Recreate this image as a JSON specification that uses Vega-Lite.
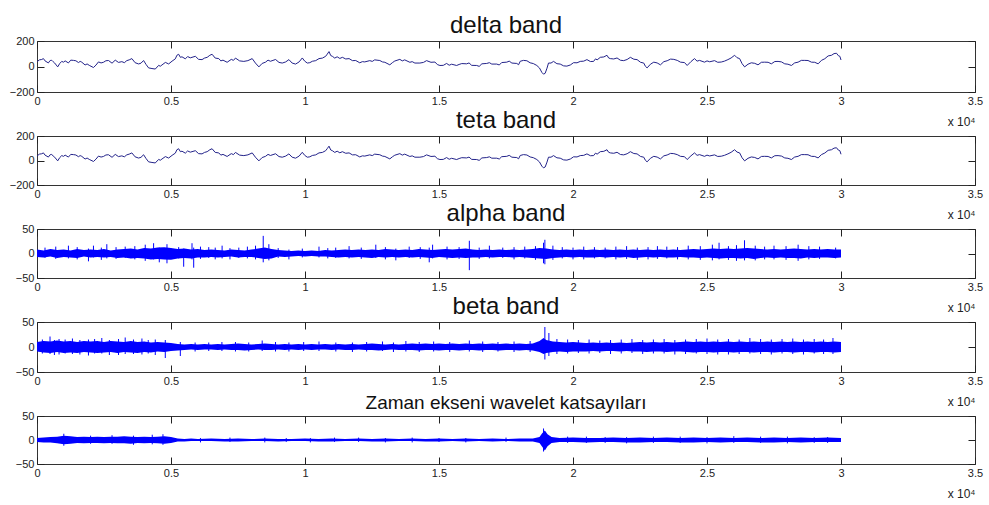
{
"$schema": "https://vega.github.io/schema/vega-lite/v6.json",
"padding": {"left": 8, "top": 13, "right": 5, "bottom": 2},
"background": "white",
"datasets": {
"delta": [{"x":0,"y":37},{"x":90,"y":52},{"x":175,"y":55},{"x":240,"y":62},{"x":300,"y":44},{"x":424,"y":28},{"x":490,"y":47},{"x":549,"y":49},{"x":600,"y":38},{"x":660,"y":27},{"x":773,"y":-3},{"x":850,"y":24},{"x":923,"y":40},{"x":990,"y":34},{"x":1050,"y":44},{"x":1172,"y":28},{"x":1260,"y":50},{"x":1359,"y":48},{"x":1450,"y":45},{"x":1546,"y":31},{"x":1610,"y":40},{"x":1670,"y":34},{"x":1795,"y":12},{"x":1870,"y":20},{"x":1950,"y":9},{"x":2107,"y":-8},{"x":2200,"y":11},{"x":2294,"y":36},{"x":2390,"y":28},{"x":2480,"y":33},{"x":2570,"y":45},{"x":2668,"y":47},{"x":2800,"y":26},{"x":2920,"y":50},{"x":3040,"y":32},{"x":3166,"y":38},{"x":3260,"y":30},{"x":3350,"y":46},{"x":3440,"y":52},{"x":3540,"y":62},{"x":3660,"y":30},{"x":3790,"y":20},{"x":3880,"y":26},{"x":3977,"y":47},{"x":4070,"y":16},{"x":4164,"y":-11},{"x":4290,"y":-16},{"x":4413,"y":-20},{"x":4540,"y":9},{"x":4600,"y":2},{"x":4663,"y":12},{"x":4790,"y":32},{"x":4912,"y":20},{"x":5040,"y":42},{"x":5161,"y":60},{"x":5220,"y":88},{"x":5286,"y":96},{"x":5350,"y":72},{"x":5410,"y":76},{"x":5535,"y":60},{"x":5620,"y":78},{"x":5720,"y":68},{"x":5909,"y":80},{"x":6030,"y":56},{"x":6159,"y":54},{"x":6250,"y":66},{"x":6350,"y":72},{"x":6450,"y":88},{"x":6533,"y":96},{"x":6650,"y":66},{"x":6782,"y":62},{"x":6860,"y":44},{"x":6940,"y":50},{"x":7094,"y":33},{"x":7250,"y":56},{"x":7330,"y":48},{"x":7405,"y":66},{"x":7560,"y":44},{"x":7717,"y":40},{"x":7870,"y":46},{"x":8030,"y":62},{"x":8150,"y":27},{"x":8279,"y":-3},{"x":8400,"y":24},{"x":8527,"y":34},{"x":8620,"y":50},{"x":8710,"y":41},{"x":8901,"y":55},{"x":9030,"y":32},{"x":9151,"y":27},{"x":9280,"y":36},{"x":9400,"y":54},{"x":9520,"y":27},{"x":9649,"y":19},{"x":9780,"y":36},{"x":9899,"y":67},{"x":9990,"y":42},{"x":10086,"y":27},{"x":10180,"y":30},{"x":10273,"y":41},{"x":10400,"y":46},{"x":10522,"y":62},{"x":10650,"y":66},{"x":10771,"y":80},{"x":10830,"y":97},{"x":10896,"y":117},{"x":10960,"y":86},{"x":11021,"y":80},{"x":11110,"y":66},{"x":11200,"y":76},{"x":11300,"y":63},{"x":11395,"y":72},{"x":11520,"y":59},{"x":11645,"y":62},{"x":11770,"y":46},{"x":11893,"y":47},{"x":12043,"y":29},{"x":12140,"y":38},{"x":12230,"y":36},{"x":12417,"y":46},{"x":12510,"y":40},{"x":12600,"y":52},{"x":12791,"y":47},{"x":12890,"y":36},{"x":12980,"y":33},{"x":13165,"y":13},{"x":13260,"y":30},{"x":13350,"y":43},{"x":13539,"y":56},{"x":13630,"y":44},{"x":13720,"y":52},{"x":13913,"y":33},{"x":14000,"y":38},{"x":14100,"y":27},{"x":14287,"y":27},{"x":14420,"y":32},{"x":14536,"y":46},{"x":14700,"y":33},{"x":14848,"y":35},{"x":14940,"y":15},{"x":15035,"y":8},{"x":15160,"y":9},{"x":15284,"y":24},{"x":15380,"y":10},{"x":15470,"y":18},{"x":15658,"y":8},{"x":15750,"y":16},{"x":15850,"y":23},{"x":16032,"y":21},{"x":16120,"y":28},{"x":16220,"y":9},{"x":16406,"y":8},{"x":16500,"y":1},{"x":16600,"y":21},{"x":16780,"y":24},{"x":16880,"y":30},{"x":16970,"y":19},{"x":17154,"y":19},{"x":17250,"y":12},{"x":17340,"y":31},{"x":17528,"y":34},{"x":17620,"y":42},{"x":17720,"y":27},{"x":17902,"y":24},{"x":17970,"y":14},{"x":18030,"y":41},{"x":18151,"y":48},{"x":18280,"y":45},{"x":18400,"y":29},{"x":18520,"y":23},{"x":18650,"y":8},{"x":18750,"y":-12},{"x":18837,"y":-46},{"x":18900,"y":-60},{"x":18962,"y":-53},{"x":19030,"y":-13},{"x":19086,"y":27},{"x":19180,"y":27},{"x":19273,"y":40},{"x":19400,"y":22},{"x":19523,"y":19},{"x":19650,"y":5},{"x":19772,"y":3},{"x":19900,"y":12},{"x":20021,"y":30},{"x":20150,"y":29},{"x":20271,"y":40},{"x":20400,"y":42},{"x":20520,"y":54},{"x":20650,"y":39},{"x":20769,"y":40},{"x":20840,"y":60},{"x":20900,"y":52},{"x":21019,"y":72},{"x":21150,"y":75},{"x":21268,"y":88},{"x":21330,"y":67},{"x":21393,"y":62},{"x":21520,"y":59},{"x":21643,"y":67},{"x":21770,"y":49},{"x":21892,"y":46},{"x":22020,"y":55},{"x":22141,"y":72},{"x":22270,"y":57},{"x":22391,"y":54},{"x":22520,"y":33},{"x":22640,"y":27},{"x":22700,"y":2},{"x":22765,"y":-11},{"x":22890,"y":18},{"x":23014,"y":34},{"x":23140,"y":28},{"x":23263,"y":13},{"x":23390,"y":38},{"x":23513,"y":45},{"x":23640,"y":58},{"x":23762,"y":56},{"x":23890,"y":48},{"x":24011,"y":34},{"x":24160,"y":31},{"x":24260,"y":8},{"x":24400,"y":38},{"x":24534,"y":62},{"x":24630,"y":42},{"x":24720,"y":48},{"x":24908,"y":34},{"x":25000,"y":44},{"x":25100,"y":37},{"x":25282,"y":46},{"x":25400,"y":33},{"x":25532,"y":35},{"x":25650,"y":42},{"x":25781,"y":54},{"x":25900,"y":67},{"x":26030,"y":88},{"x":26120,"y":69},{"x":26217,"y":62},{"x":26310,"y":22},{"x":26404,"y":-3},{"x":26530,"y":18},{"x":26654,"y":29},{"x":26780,"y":25},{"x":26903,"y":13},{"x":27030,"y":33},{"x":27152,"y":34},{"x":27280,"y":33},{"x":27402,"y":21},{"x":27530,"y":39},{"x":27651,"y":40},{"x":27780,"y":36},{"x":27900,"y":21},{"x":28020,"y":18},{"x":28150,"y":8},{"x":28270,"y":28},{"x":28399,"y":34},{"x":28520,"y":48},{"x":28648,"y":48},{"x":28770,"y":47},{"x":28898,"y":34},{"x":29020,"y":33},{"x":29147,"y":21},{"x":29270,"y":48},{"x":29396,"y":61},{"x":29520,"y":83},{"x":29646,"y":88},{"x":29740,"y":101},{"x":29833,"y":104},{"x":29900,"y":85},{"x":29958,"y":80},{"x":30000,"y":51}],
"alphaBody": [{"x":0,"hi":8,"lo":-7},{"x":250,"hi":6,"lo":-8},{"x":500,"hi":9,"lo":-6},{"x":750,"hi":7,"lo":-9},{"x":1000,"hi":8,"lo":-7},{"x":1250,"hi":6,"lo":-8},{"x":1500,"hi":9,"lo":-9},{"x":1750,"hi":7,"lo":-6},{"x":2000,"hi":8,"lo":-8},{"x":2250,"hi":7,"lo":-7},{"x":2500,"hi":9,"lo":-8},{"x":2750,"hi":6,"lo":-7},{"x":3000,"hi":8,"lo":-9},{"x":3250,"hi":9,"lo":-8},{"x":3500,"hi":10,"lo":-10},{"x":3750,"hi":8,"lo":-9},{"x":4000,"hi":11,"lo":-10},{"x":4250,"hi":10,"lo":-12},{"x":4500,"hi":12,"lo":-11},{"x":4750,"hi":13,"lo":-12},{"x":5000,"hi":11,"lo":-13},{"x":5250,"hi":9,"lo":-10},{"x":5500,"hi":10,"lo":-9},{"x":5750,"hi":8,"lo":-10},{"x":6000,"hi":9,"lo":-8},{"x":6250,"hi":7,"lo":-8},{"x":6500,"hi":8,"lo":-7},{"x":6750,"hi":7,"lo":-8},{"x":7000,"hi":6,"lo":-7},{"x":7250,"hi":8,"lo":-6},{"x":7500,"hi":7,"lo":-8},{"x":7750,"hi":6,"lo":-7},{"x":8000,"hi":8,"lo":-7},{"x":8250,"hi":10,"lo":-9},{"x":8500,"hi":12,"lo":-11},{"x":8750,"hi":9,"lo":-10},{"x":9000,"hi":7,"lo":-6},{"x":9250,"hi":6,"lo":-7},{"x":9500,"hi":5,"lo":-6},{"x":9750,"hi":6,"lo":-5},{"x":10000,"hi":5,"lo":-6},{"x":10250,"hi":6,"lo":-5},{"x":10500,"hi":5,"lo":-6},{"x":10750,"hi":7,"lo":-6},{"x":11000,"hi":6,"lo":-7},{"x":11250,"hi":7,"lo":-8},{"x":11500,"hi":8,"lo":-7},{"x":11750,"hi":7,"lo":-8},{"x":12000,"hi":8,"lo":-7},{"x":12250,"hi":7,"lo":-8},{"x":12500,"hi":8,"lo":-9},{"x":12750,"hi":7,"lo":-7},{"x":13000,"hi":9,"lo":-8},{"x":13250,"hi":8,"lo":-7},{"x":13500,"hi":7,"lo":-8},{"x":13750,"hi":8,"lo":-7},{"x":14000,"hi":7,"lo":-8},{"x":14250,"hi":9,"lo":-7},{"x":14500,"hi":8,"lo":-8},{"x":14750,"hi":7,"lo":-9},{"x":15000,"hi":8,"lo":-7},{"x":15250,"hi":9,"lo":-8},{"x":15500,"hi":8,"lo":-9},{"x":15750,"hi":9,"lo":-8},{"x":16000,"hi":10,"lo":-9},{"x":16250,"hi":8,"lo":-8},{"x":16500,"hi":7,"lo":-8},{"x":16750,"hi":8,"lo":-7},{"x":17000,"hi":7,"lo":-8},{"x":17250,"hi":8,"lo":-7},{"x":17500,"hi":7,"lo":-7},{"x":17750,"hi":8,"lo":-8},{"x":18000,"hi":7,"lo":-7},{"x":18250,"hi":8,"lo":-8},{"x":18500,"hi":9,"lo":-9},{"x":18750,"hi":11,"lo":-10},{"x":19000,"hi":10,"lo":-11},{"x":19250,"hi":8,"lo":-9},{"x":19500,"hi":7,"lo":-8},{"x":19750,"hi":8,"lo":-7},{"x":20000,"hi":7,"lo":-8},{"x":20250,"hi":8,"lo":-7},{"x":20500,"hi":7,"lo":-8},{"x":20750,"hi":8,"lo":-8},{"x":21000,"hi":7,"lo":-7},{"x":21250,"hi":8,"lo":-8},{"x":21500,"hi":7,"lo":-7},{"x":21750,"hi":8,"lo":-8},{"x":22000,"hi":7,"lo":-7},{"x":22250,"hi":8,"lo":-9},{"x":22500,"hi":7,"lo":-8},{"x":22750,"hi":8,"lo":-7},{"x":23000,"hi":7,"lo":-8},{"x":23250,"hi":8,"lo":-7},{"x":23500,"hi":7,"lo":-8},{"x":23750,"hi":8,"lo":-8},{"x":24000,"hi":7,"lo":-7},{"x":24250,"hi":8,"lo":-8},{"x":24500,"hi":9,"lo":-8},{"x":24750,"hi":8,"lo":-9},{"x":25000,"hi":9,"lo":-8},{"x":25250,"hi":10,"lo":-9},{"x":25500,"hi":9,"lo":-10},{"x":25750,"hi":10,"lo":-9},{"x":26000,"hi":9,"lo":-9},{"x":26250,"hi":10,"lo":-10},{"x":26500,"hi":11,"lo":-9},{"x":26750,"hi":10,"lo":-11},{"x":27000,"hi":9,"lo":-9},{"x":27250,"hi":8,"lo":-8},{"x":27500,"hi":9,"lo":-9},{"x":27750,"hi":8,"lo":-8},{"x":28000,"hi":9,"lo":-9},{"x":28250,"hi":10,"lo":-9},{"x":28500,"hi":9,"lo":-10},{"x":28750,"hi":8,"lo":-8},{"x":29000,"hi":9,"lo":-9},{"x":29250,"hi":8,"lo":-8},{"x":29500,"hi":9,"lo":-8},{"x":29750,"hi":8,"lo":-9},{"x":30000,"hi":8,"lo":-8}],
"alphaSpikes": [{"x":299,"hi":12,"lo":-9},{"x":700,"hi":14,"lo":-11},{"x":1172,"hi":16,"lo":-10},{"x":1500,"hi":13,"lo":-12},{"x":1920,"hi":10,"lo":-16},{"x":2107,"hi":16,"lo":-8},{"x":2400,"hi":12,"lo":-13},{"x":2605,"hi":19,"lo":-10},{"x":2950,"hi":13,"lo":-11},{"x":3291,"hi":14,"lo":-9},{"x":3650,"hi":15,"lo":-12},{"x":4039,"hi":18,"lo":-15},{"x":4351,"hi":21,"lo":-12},{"x":4563,"hi":12,"lo":-18},{"x":4850,"hi":19,"lo":-20},{"x":5286,"hi":13,"lo":-10},{"x":5473,"hi":10,"lo":-27},{"x":5784,"hi":21,"lo":-12},{"x":5847,"hi":12,"lo":-29},{"x":6100,"hi":14,"lo":-11},{"x":6408,"hi":13,"lo":-9},{"x":6650,"hi":12,"lo":-12},{"x":6907,"hi":16,"lo":-10},{"x":7200,"hi":11,"lo":-12},{"x":7530,"hi":12,"lo":-9},{"x":7850,"hi":14,"lo":-10},{"x":8154,"hi":16,"lo":-12},{"x":8441,"hi":36,"lo":-18},{"x":8652,"hi":19,"lo":-14},{"x":9000,"hi":11,"lo":-9},{"x":9400,"hi":8,"lo":-12},{"x":9900,"hi":10,"lo":-8},{"x":10522,"hi":14,"lo":-8},{"x":10850,"hi":11,"lo":-10},{"x":11146,"hi":12,"lo":-9},{"x":11645,"hi":15,"lo":-10},{"x":12100,"hi":12,"lo":-11},{"x":12642,"hi":18,"lo":-9},{"x":13000,"hi":13,"lo":-12},{"x":13389,"hi":10,"lo":-14},{"x":13888,"hi":14,"lo":-9},{"x":14300,"hi":13,"lo":-11},{"x":14636,"hi":12,"lo":-18},{"x":14761,"hi":18,"lo":-10},{"x":15300,"hi":14,"lo":-12},{"x":15750,"hi":13,"lo":-11},{"x":16132,"hi":26,"lo":-34},{"x":16500,"hi":12,"lo":-11},{"x":16880,"hi":16,"lo":-10},{"x":17379,"hi":12,"lo":-9},{"x":17800,"hi":13,"lo":-12},{"x":18200,"hi":14,"lo":-10},{"x":18600,"hi":15,"lo":-13},{"x":18900,"hi":22,"lo":-20},{"x":18950,"hi":28,"lo":-22},{"x":19250,"hi":16,"lo":-13},{"x":19600,"hi":13,"lo":-10},{"x":20000,"hi":12,"lo":-12},{"x":20400,"hi":14,"lo":-12},{"x":20800,"hi":13,"lo":-10},{"x":21200,"hi":12,"lo":-10},{"x":21600,"hi":14,"lo":-12},{"x":22000,"hi":15,"lo":-11},{"x":22400,"hi":12,"lo":-13},{"x":22800,"hi":13,"lo":-12},{"x":23150,"hi":15,"lo":-11},{"x":23500,"hi":14,"lo":-10},{"x":23900,"hi":13,"lo":-12},{"x":24300,"hi":16,"lo":-12},{"x":24750,"hi":15,"lo":-13},{"x":25200,"hi":18,"lo":-14},{"x":25450,"hi":22,"lo":-12},{"x":25800,"hi":15,"lo":-13},{"x":26100,"hi":17,"lo":-15},{"x":26400,"hi":27,"lo":-14},{"x":26800,"hi":16,"lo":-14},{"x":27150,"hi":14,"lo":-12},{"x":27500,"hi":16,"lo":-12},{"x":27950,"hi":15,"lo":-13},{"x":28400,"hi":18,"lo":-15},{"x":28800,"hi":15,"lo":-12},{"x":29200,"hi":14,"lo":-11},{"x":29800,"hi":12,"lo":-10}],
"betaBody": [{"x":0,"hi":10,"lo":-9},{"x":250,"hi":12,"lo":-11},{"x":500,"hi":11,"lo":-12},{"x":750,"hi":13,"lo":-10},{"x":1000,"hi":11,"lo":-12},{"x":1250,"hi":12,"lo":-11},{"x":1500,"hi":10,"lo":-12},{"x":1750,"hi":12,"lo":-10},{"x":2000,"hi":11,"lo":-11},{"x":2250,"hi":12,"lo":-12},{"x":2500,"hi":10,"lo":-11},{"x":2750,"hi":12,"lo":-10},{"x":3000,"hi":11,"lo":-12},{"x":3250,"hi":10,"lo":-10},{"x":3500,"hi":12,"lo":-11},{"x":3750,"hi":10,"lo":-12},{"x":4000,"hi":11,"lo":-10},{"x":4250,"hi":9,"lo":-11},{"x":4500,"hi":10,"lo":-9},{"x":4750,"hi":9,"lo":-10},{"x":5000,"hi":8,"lo":-8},{"x":5250,"hi":6,"lo":-7},{"x":5500,"hi":5,"lo":-6},{"x":5750,"hi":6,"lo":-5},{"x":6000,"hi":5,"lo":-6},{"x":6250,"hi":6,"lo":-5},{"x":6500,"hi":5,"lo":-5},{"x":6750,"hi":6,"lo":-6},{"x":7000,"hi":5,"lo":-5},{"x":7250,"hi":6,"lo":-6},{"x":7500,"hi":7,"lo":-6},{"x":7750,"hi":6,"lo":-7},{"x":8000,"hi":5,"lo":-6},{"x":8250,"hi":6,"lo":-5},{"x":8500,"hi":7,"lo":-6},{"x":8750,"hi":6,"lo":-6},{"x":9000,"hi":5,"lo":-5},{"x":9250,"hi":6,"lo":-6},{"x":9500,"hi":5,"lo":-5},{"x":9750,"hi":6,"lo":-6},{"x":10000,"hi":5,"lo":-5},{"x":10250,"hi":6,"lo":-6},{"x":10500,"hi":5,"lo":-5},{"x":10750,"hi":6,"lo":-5},{"x":11000,"hi":5,"lo":-6},{"x":11250,"hi":6,"lo":-5},{"x":11500,"hi":5,"lo":-6},{"x":11750,"hi":6,"lo":-6},{"x":12000,"hi":5,"lo":-5},{"x":12250,"hi":6,"lo":-6},{"x":12500,"hi":7,"lo":-6},{"x":12750,"hi":6,"lo":-7},{"x":13000,"hi":5,"lo":-6},{"x":13250,"hi":6,"lo":-5},{"x":13500,"hi":5,"lo":-6},{"x":13750,"hi":6,"lo":-6},{"x":14000,"hi":7,"lo":-6},{"x":14250,"hi":6,"lo":-7},{"x":14500,"hi":7,"lo":-6},{"x":14750,"hi":6,"lo":-6},{"x":15000,"hi":7,"lo":-7},{"x":15250,"hi":6,"lo":-6},{"x":15500,"hi":7,"lo":-6},{"x":15750,"hi":6,"lo":-7},{"x":16000,"hi":7,"lo":-6},{"x":16250,"hi":6,"lo":-6},{"x":16500,"hi":7,"lo":-7},{"x":16750,"hi":6,"lo":-6},{"x":17000,"hi":7,"lo":-6},{"x":17250,"hi":6,"lo":-7},{"x":17500,"hi":7,"lo":-6},{"x":17750,"hi":6,"lo":-6},{"x":18000,"hi":7,"lo":-7},{"x":18250,"hi":6,"lo":-6},{"x":18500,"hi":7,"lo":-7},{"x":18750,"hi":12,"lo":-10},{"x":18900,"hi":18,"lo":-14},{"x":19000,"hi":14,"lo":-12},{"x":19250,"hi":11,"lo":-10},{"x":19500,"hi":10,"lo":-9},{"x":19750,"hi":9,"lo":-10},{"x":20000,"hi":10,"lo":-9},{"x":20250,"hi":9,"lo":-9},{"x":20500,"hi":8,"lo":-9},{"x":20750,"hi":9,"lo":-8},{"x":21000,"hi":8,"lo":-9},{"x":21250,"hi":9,"lo":-8},{"x":21500,"hi":8,"lo":-8},{"x":21750,"hi":9,"lo":-9},{"x":22000,"hi":8,"lo":-8},{"x":22250,"hi":9,"lo":-9},{"x":22500,"hi":10,"lo":-9},{"x":22750,"hi":9,"lo":-10},{"x":23000,"hi":10,"lo":-9},{"x":23250,"hi":9,"lo":-9},{"x":23500,"hi":10,"lo":-10},{"x":23750,"hi":9,"lo":-9},{"x":24000,"hi":10,"lo":-9},{"x":24250,"hi":11,"lo":-10},{"x":24500,"hi":10,"lo":-11},{"x":24750,"hi":11,"lo":-10},{"x":25000,"hi":10,"lo":-10},{"x":25250,"hi":11,"lo":-11},{"x":25500,"hi":10,"lo":-10},{"x":25750,"hi":11,"lo":-10},{"x":26000,"hi":10,"lo":-11},{"x":26250,"hi":11,"lo":-10},{"x":26500,"hi":10,"lo":-10},{"x":26750,"hi":11,"lo":-11},{"x":27000,"hi":10,"lo":-10},{"x":27250,"hi":11,"lo":-10},{"x":27500,"hi":10,"lo":-11},{"x":27750,"hi":11,"lo":-10},{"x":28000,"hi":10,"lo":-10},{"x":28250,"hi":11,"lo":-11},{"x":28500,"hi":10,"lo":-10},{"x":28750,"hi":11,"lo":-10},{"x":29000,"hi":10,"lo":-11},{"x":29250,"hi":11,"lo":-10},{"x":29500,"hi":10,"lo":-10},{"x":29750,"hi":11,"lo":-11},{"x":30000,"hi":10,"lo":-10}],
"betaSpikes": [{"x":200,"hi":15,"lo":-13},{"x":486,"hi":21,"lo":-14},{"x":650,"hi":14,"lo":-16},{"x":823,"hi":16,"lo":-15},{"x":1050,"hi":15,"lo":-13},{"x":1322,"hi":17,"lo":-14},{"x":1600,"hi":14,"lo":-15},{"x":1920,"hi":15,"lo":-17},{"x":2150,"hi":16,"lo":-13},{"x":2418,"hi":18,"lo":-13},{"x":2700,"hi":14,"lo":-16},{"x":3042,"hi":16,"lo":-16},{"x":3291,"hi":19,"lo":-14},{"x":3600,"hi":15,"lo":-14},{"x":3915,"hi":17,"lo":-15},{"x":4150,"hi":14,"lo":-13},{"x":4413,"hi":15,"lo":-16},{"x":4787,"hi":14,"lo":-22},{"x":5348,"hi":10,"lo":-18},{"x":5900,"hi":9,"lo":-9},{"x":6408,"hi":9,"lo":-8},{"x":6900,"hi":10,"lo":-8},{"x":7405,"hi":10,"lo":-9},{"x":7900,"hi":9,"lo":-9},{"x":8403,"hi":13,"lo":-8},{"x":8900,"hi":10,"lo":-9},{"x":9400,"hi":9,"lo":-9},{"x":9950,"hi":10,"lo":-8},{"x":10522,"hi":11,"lo":-8},{"x":11150,"hi":9,"lo":-9},{"x":11770,"hi":9,"lo":-10},{"x":12300,"hi":10,"lo":-9},{"x":12891,"hi":11,"lo":-8},{"x":13300,"hi":9,"lo":-10},{"x":13764,"hi":12,"lo":-9},{"x":14262,"hi":10,"lo":-10},{"x":14800,"hi":11,"lo":-9},{"x":15400,"hi":10,"lo":-10},{"x":16132,"hi":13,"lo":-9},{"x":16630,"hi":11,"lo":-10},{"x":17200,"hi":10,"lo":-9},{"x":17800,"hi":11,"lo":-10},{"x":18400,"hi":12,"lo":-10},{"x":18950,"hi":40,"lo":-25},{"x":19100,"hi":28,"lo":-18},{"x":19400,"hi":16,"lo":-14},{"x":19800,"hi":15,"lo":-13},{"x":20200,"hi":14,"lo":-12},{"x":20600,"hi":15,"lo":-13},{"x":21000,"hi":13,"lo":-12},{"x":21400,"hi":14,"lo":-14},{"x":21800,"hi":15,"lo":-13},{"x":22200,"hi":16,"lo":-12},{"x":22600,"hi":14,"lo":-14},{"x":23000,"hi":15,"lo":-13},{"x":23400,"hi":16,"lo":-13},{"x":23800,"hi":14,"lo":-15},{"x":24200,"hi":15,"lo":-14},{"x":24600,"hi":16,"lo":-13},{"x":25000,"hi":17,"lo":-14},{"x":25400,"hi":15,"lo":-15},{"x":25800,"hi":16,"lo":-15},{"x":26200,"hi":15,"lo":-14},{"x":26600,"hi":18,"lo":-13},{"x":27000,"hi":16,"lo":-14},{"x":27400,"hi":15,"lo":-15},{"x":27800,"hi":16,"lo":-13},{"x":28200,"hi":17,"lo":-14},{"x":28600,"hi":15,"lo":-15},{"x":29000,"hi":16,"lo":-13},{"x":29350,"hi":15,"lo":-14},{"x":29700,"hi":18,"lo":-14}],
"wavBody": [{"x":0,"hi":4,"lo":-4},{"x":250,"hi":5,"lo":-5},{"x":500,"hi":6,"lo":-5},{"x":750,"hi":7,"lo":-7},{"x":1000,"hi":9,"lo":-9},{"x":1250,"hi":8,"lo":-8},{"x":1500,"hi":6,"lo":-6},{"x":1750,"hi":7,"lo":-7},{"x":2000,"hi":6,"lo":-6},{"x":2250,"hi":7,"lo":-6},{"x":2500,"hi":6,"lo":-7},{"x":2750,"hi":7,"lo":-6},{"x":3000,"hi":7,"lo":-7},{"x":3250,"hi":8,"lo":-7},{"x":3500,"hi":7,"lo":-8},{"x":3750,"hi":6,"lo":-6},{"x":4000,"hi":7,"lo":-7},{"x":4250,"hi":6,"lo":-6},{"x":4500,"hi":7,"lo":-7},{"x":4750,"hi":8,"lo":-8},{"x":5000,"hi":6,"lo":-6},{"x":5250,"hi":3,"lo":-3},{"x":5500,"hi":2,"lo":-3},{"x":5750,"hi":3,"lo":-2},{"x":6000,"hi":2,"lo":-2},{"x":6500,"hi":3,"lo":-2},{"x":7000,"hi":2,"lo":-3},{"x":7500,"hi":3,"lo":-3},{"x":8000,"hi":2,"lo":-2},{"x":8500,"hi":3,"lo":-2},{"x":9000,"hi":2,"lo":-3},{"x":9500,"hi":2,"lo":-2},{"x":10000,"hi":3,"lo":-2},{"x":10500,"hi":2,"lo":-3},{"x":11000,"hi":3,"lo":-3},{"x":11500,"hi":2,"lo":-2},{"x":12000,"hi":3,"lo":-2},{"x":12500,"hi":2,"lo":-3},{"x":13000,"hi":3,"lo":-3},{"x":13500,"hi":2,"lo":-2},{"x":14000,"hi":3,"lo":-2},{"x":14500,"hi":2,"lo":-3},{"x":15000,"hi":3,"lo":-3},{"x":15500,"hi":2,"lo":-2},{"x":16000,"hi":3,"lo":-3},{"x":16500,"hi":2,"lo":-2},{"x":17000,"hi":3,"lo":-3},{"x":17500,"hi":2,"lo":-2},{"x":18000,"hi":3,"lo":-3},{"x":18500,"hi":3,"lo":-3},{"x":18750,"hi":6,"lo":-6},{"x":18850,"hi":14,"lo":-14},{"x":18950,"hi":20,"lo":-22},{"x":19050,"hi":12,"lo":-13},{"x":19200,"hi":6,"lo":-6},{"x":19500,"hi":4,"lo":-4},{"x":20000,"hi":5,"lo":-4},{"x":20500,"hi":4,"lo":-5},{"x":21000,"hi":4,"lo":-4},{"x":21500,"hi":5,"lo":-4},{"x":22000,"hi":4,"lo":-5},{"x":22500,"hi":5,"lo":-5},{"x":23000,"hi":4,"lo":-4},{"x":23500,"hi":5,"lo":-4},{"x":24000,"hi":4,"lo":-5},{"x":24500,"hi":5,"lo":-5},{"x":25000,"hi":4,"lo":-4},{"x":25500,"hi":5,"lo":-5},{"x":26000,"hi":4,"lo":-4},{"x":26500,"hi":5,"lo":-4},{"x":27000,"hi":4,"lo":-5},{"x":27500,"hi":5,"lo":-5},{"x":28000,"hi":4,"lo":-4},{"x":28500,"hi":5,"lo":-5},{"x":29000,"hi":4,"lo":-4},{"x":29500,"hi":5,"lo":-4},{"x":30000,"hi":4,"lo":-4}],
"wavSpikes": [{"x":1000,"hi":13,"lo":-12},{"x":2000,"hi":9,"lo":-8},{"x":2800,"hi":10,"lo":-8},{"x":3600,"hi":9,"lo":-10},{"x":4300,"hi":11,"lo":-9},{"x":4700,"hi":12,"lo":-10},{"x":6100,"hi":4,"lo":-5},{"x":7200,"hi":5,"lo":-4},{"x":8500,"hi":5,"lo":-5},{"x":9300,"hi":4,"lo":-4},{"x":10200,"hi":4,"lo":-5},{"x":11100,"hi":5,"lo":-4},{"x":12000,"hi":5,"lo":-4},{"x":13000,"hi":4,"lo":-5},{"x":14000,"hi":5,"lo":-5},{"x":15000,"hi":4,"lo":-4},{"x":16000,"hi":4,"lo":-5},{"x":17500,"hi":5,"lo":-4},{"x":18900,"hi":24,"lo":-24},{"x":19800,"hi":7,"lo":-6},{"x":20500,"hi":7,"lo":-6},{"x":21200,"hi":6,"lo":-6},{"x":22000,"hi":6,"lo":-7},{"x":23000,"hi":7,"lo":-6},{"x":24000,"hi":7,"lo":-6},{"x":25000,"hi":6,"lo":-7},{"x":26000,"hi":8,"lo":-6},{"x":27000,"hi":7,"lo":-6},{"x":28000,"hi":7,"lo":-7},{"x":29000,"hi":6,"lo":-6},{"x":29500,"hi":6,"lo":-6}]
},
"vconcat": [
{"width": 938, "height": 51,
 "title": {"text": "delta band", "fontSize": 24},
 "layer": [
  {"data": {"name": "delta"}, "mark": {"type": "line", "color": "#23238a", "strokeWidth": 1},
   "encoding": {"x": {"field": "x", "type": "quantitative", "scale": {"domain": [0, 35000], "nice": false}, "axis": {"orient": "bottom", "values": [0,5000,10000,15000,20000,25000,30000,35000], "labelExpr": "format(datum.value/10000, '~g')", "title": "x 10⁴"}},
    "y": {"field": "y", "type": "quantitative", "scale": {"domain": [-200, 200], "nice": false}, "axis": {"orient": "left", "values": [-200, 0, 200], "title": null}}}},
  {"data": {"name": "wavSpikes"}, "mark": {"type": "point", "opacity": 0},
   "encoding": {"x": {"datum": 0, "type": "quantitative", "axis": {"orient": "top", "values": [0,5000,10000,15000,20000,25000,30000,35000], "labels": false, "title": null}},
    "y": {"datum": 0, "type": "quantitative", "axis": {"orient": "right", "values": [-200, 0, 200], "labels": false, "title": null}}}}
 ],
 "resolve": {"axis": {"x": "independent", "y": "independent"}}},
{"width": 938, "height": 49,
 "title": {"text": "teta band", "fontSize": 24},
 "layer": [
  {"data": {"name": "delta"}, "mark": {"type": "line", "color": "#23238a", "strokeWidth": 1},
   "encoding": {"x": {"field": "x", "type": "quantitative", "scale": {"domain": [0, 35000], "nice": false}, "axis": {"orient": "bottom", "values": [0,5000,10000,15000,20000,25000,30000,35000], "labelExpr": "format(datum.value/10000, '~g')", "title": "x 10⁴"}},
    "y": {"field": "y", "type": "quantitative", "scale": {"domain": [-200, 200], "nice": false}, "axis": {"orient": "left", "values": [-200, 0, 200], "title": null}}}},
  {"data": {"name": "wavSpikes"}, "mark": {"type": "point", "opacity": 0},
   "encoding": {"x": {"datum": 0, "type": "quantitative", "axis": {"orient": "top", "values": [0,5000,10000,15000,20000,25000,30000,35000], "labels": false, "title": null}},
    "y": {"datum": 0, "type": "quantitative", "axis": {"orient": "right", "values": [-200, 0, 200], "labels": false, "title": null}}}}
 ],
 "resolve": {"axis": {"x": "independent", "y": "independent"}}},
{"width": 938, "height": 49,
 "title": {"text": "alpha band", "fontSize": 24},
 "layer": [
  {"data": {"name": "alphaBody"}, "mark": {"type": "area", "color": "#0000ff"},
   "encoding": {"x": {"field": "x", "type": "quantitative", "scale": {"domain": [0, 35000], "nice": false}, "axis": {"orient": "bottom", "values": [0,5000,10000,15000,20000,25000,30000,35000], "labelExpr": "format(datum.value/10000, '~g')", "title": "x 10⁴"}},
    "y": {"field": "hi", "type": "quantitative", "scale": {"domain": [-50, 50], "nice": false}, "axis": {"orient": "left", "values": [-50, 0, 50], "title": null}},
    "y2": {"field": "lo"}}},
  {"data": {"name": "alphaSpikes"}, "mark": {"type": "rule", "color": "#0000ff", "strokeWidth": 1},
   "encoding": {"x": {"field": "x", "type": "quantitative", "axis": null}, "y": {"field": "hi", "type": "quantitative", "axis": null}, "y2": {"field": "lo"}}},
  {"data": {"name": "wavSpikes"}, "mark": {"type": "point", "opacity": 0},
   "encoding": {"x": {"datum": 0, "type": "quantitative", "axis": {"orient": "top", "values": [0,5000,10000,15000,20000,25000,30000,35000], "labels": false, "title": null}},
    "y": {"datum": 0, "type": "quantitative", "axis": {"orient": "right", "values": [-50, 0, 50], "labels": false, "title": null}}}}
 ],
 "resolve": {"axis": {"x": "independent", "y": "independent"}}},
{"width": 938, "height": 50,
 "title": {"text": "beta band", "fontSize": 24},
 "layer": [
  {"data": {"name": "betaBody"}, "mark": {"type": "area", "color": "#0000ff"},
   "encoding": {"x": {"field": "x", "type": "quantitative", "scale": {"domain": [0, 35000], "nice": false}, "axis": {"orient": "bottom", "values": [0,5000,10000,15000,20000,25000,30000,35000], "labelExpr": "format(datum.value/10000, '~g')", "title": "x 10⁴"}},
    "y": {"field": "hi", "type": "quantitative", "scale": {"domain": [-50, 50], "nice": false}, "axis": {"orient": "left", "values": [-50, 0, 50], "title": null}},
    "y2": {"field": "lo"}}},
  {"data": {"name": "betaSpikes"}, "mark": {"type": "rule", "color": "#0000ff", "strokeWidth": 1},
   "encoding": {"x": {"field": "x", "type": "quantitative", "axis": null}, "y": {"field": "hi", "type": "quantitative", "axis": null}, "y2": {"field": "lo"}}},
  {"data": {"name": "wavSpikes"}, "mark": {"type": "point", "opacity": 0},
   "encoding": {"x": {"datum": 0, "type": "quantitative", "axis": {"orient": "top", "values": [0,5000,10000,15000,20000,25000,30000,35000], "labels": false, "title": null}},
    "y": {"datum": 0, "type": "quantitative", "axis": {"orient": "right", "values": [-50, 0, 50], "labels": false, "title": null}}}}
 ],
 "resolve": {"axis": {"x": "independent", "y": "independent"}}},
{"width": 938, "height": 48,
 "title": {"text": "Zaman ekseni wavelet katsayıları", "fontSize": 19},
 "layer": [
  {"data": {"name": "wavBody"}, "mark": {"type": "area", "color": "#0000ff"},
   "encoding": {"x": {"field": "x", "type": "quantitative", "scale": {"domain": [0, 35000], "nice": false}, "axis": {"orient": "bottom", "values": [0,5000,10000,15000,20000,25000,30000,35000], "labelExpr": "format(datum.value/10000, '~g')", "title": "x 10⁴"}},
    "y": {"field": "hi", "type": "quantitative", "scale": {"domain": [-50, 50], "nice": false}, "axis": {"orient": "left", "values": [-50, 0, 50], "title": null}},
    "y2": {"field": "lo"}}},
  {"data": {"name": "wavSpikes"}, "mark": {"type": "rule", "color": "#0000ff", "strokeWidth": 1},
   "encoding": {"x": {"field": "x", "type": "quantitative", "axis": null}, "y": {"field": "hi", "type": "quantitative", "axis": null}, "y2": {"field": "lo"}}},
  {"data": {"name": "wavSpikes"}, "mark": {"type": "point", "opacity": 0},
   "encoding": {"x": {"datum": 0, "type": "quantitative", "axis": {"orient": "top", "values": [0,5000,10000,15000,20000,25000,30000,35000], "labels": false, "title": null}},
    "y": {"datum": 0, "type": "quantitative", "axis": {"orient": "right", "values": [-50, 0, 50], "labels": false, "title": null}}}}
 ],
 "resolve": {"axis": {"x": "independent", "y": "independent"}}}
],
"spacing": 44,
"bounds": "flush",
"config": {
 "view": {"stroke": "#333333", "strokeWidth": 1},
 "axis": {"domain": false, "grid": false, "labelFont": "Liberation Sans", "labelFontSize": 11, "labelColor": "#222222", "tickColor": "#222222", "tickSize": -7, "labelPadding": 10, "labelFlush": false, "labelOverlap": false, "titleFont": "Liberation Sans", "titleFontSize": 12, "titleFontWeight": "normal", "titleColor": "#222222", "titleAnchor": "end", "titlePadding": 10},
 "title": {"font": "Liberation Sans", "fontWeight": "normal", "color": "#111111", "anchor": "middle", "frame": "group", "offset": -3, "baseline": "alphabetic"}
}
}
